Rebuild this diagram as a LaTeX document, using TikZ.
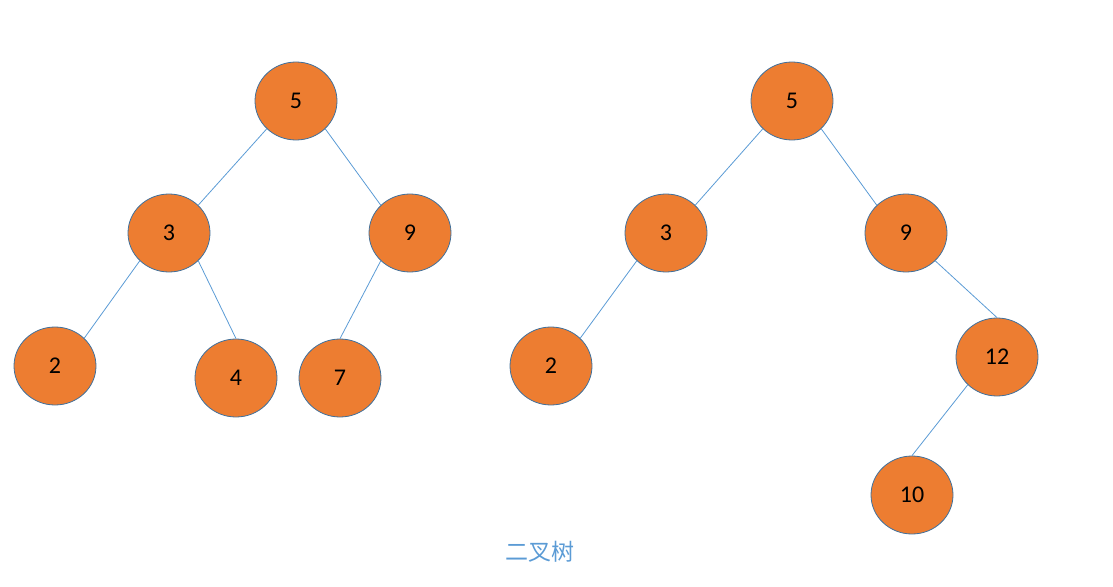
\documentclass[tikz,border=0pt]{standalone}
\usepackage{fontspec}
\setmainfont{Carlito}
\newfontfamily\cjk{Noto Sans CJK SC}
\usetikzlibrary{shapes.geometric}
\definecolor{nodefill}{HTML}{ED7D31}
\definecolor{nodeline}{HTML}{41719C}
\definecolor{edgeblue}{HTML}{5B9BD5}
\begin{document}
\begin{tikzpicture}[x=1pt,y=-1pt,
  tnode/.style={ellipse,draw=nodeline,fill=nodefill,line width=0.8pt,minimum width=82pt,minimum height=78pt,inner sep=0pt,font=\fontsize{24}{28}\selectfont,text=black},
  edge/.style={draw=edgeblue,line width=0.8pt}]
\useasboundingbox (0,0) rectangle (1113,586);
% left tree
\node[tnode] (a5) at (296,101) {5};
\node[tnode] (a3) at (169,233) {3};
\node[tnode] (a9) at (410,233) {9};
\node[tnode] (a2) at (55,366) {2};
\node[tnode] (a4) at (236,378) {4};
\node[tnode] (a7) at (340,378) {7};
\draw[edge] (a5.south west) -- (a3.north east);
\draw[edge] (a5.south east) -- (a9.north west);
\draw[edge] (a3.south west) -- (a2.north east);
\draw[edge] (a3.south east) -- (a4.north);
\draw[edge] (a9.south west) -- (a7.north);
% right tree
\node[tnode] (b5) at (792,101) {5};
\node[tnode] (b3) at (666,233) {3};
\node[tnode] (b9) at (906,233) {9};
\node[tnode] (b2) at (551,366) {2};
\node[tnode] (b12) at (997,357) {12};
\node[tnode] (b10) at (912,495) {10};
\draw[edge] (b5.south west) -- (b3.north east);
\draw[edge] (b5.south east) -- (b9.north west);
\draw[edge] (b3.south west) -- (b2.north east);
\draw[edge] (b9.south east) -- (b12.north);
\draw[edge] (b12.south west) -- (b10.north);
\node[font=\cjk\fontsize{23}{26}\selectfont,text=edgeblue] (cap) at (540,552) {二叉树};
\end{tikzpicture}
\end{document}
